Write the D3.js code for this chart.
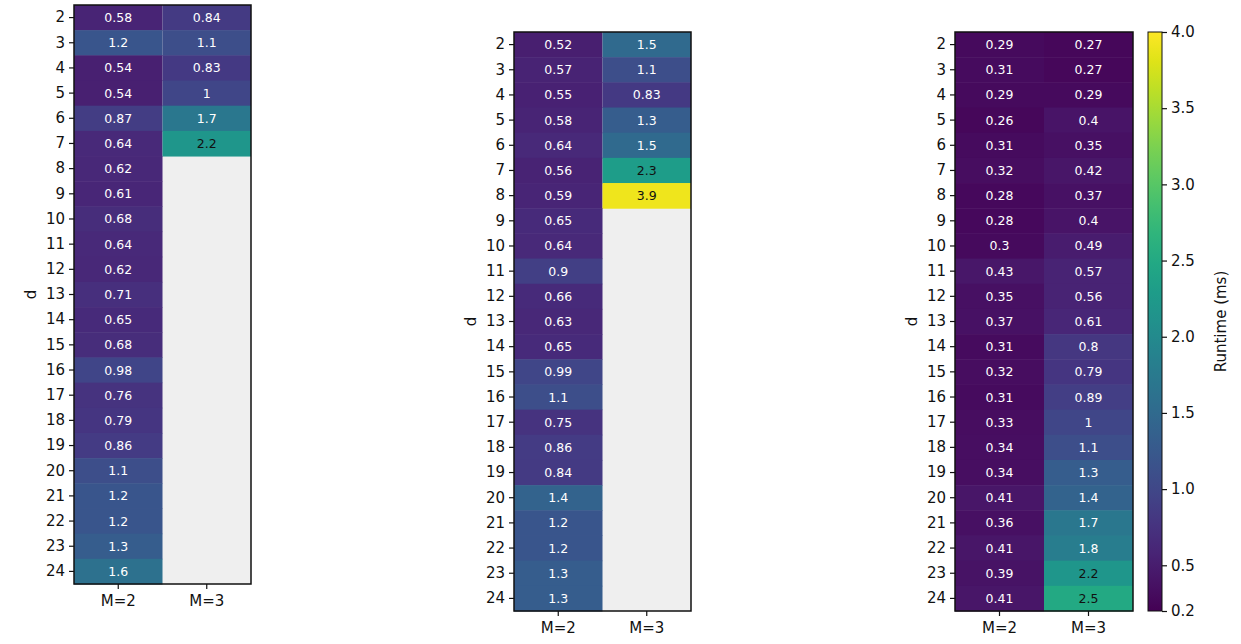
<!DOCTYPE html>
<html>
<head>
<meta charset="utf-8">
<script src="https://cdn.jsdelivr.net/npm/d3@7"></script>
<style>
body { margin:0; background:white; }
text { font-family:"DejaVu Sans", sans-serif; fill:#111; }
.axis path { display:none; }
.axis line { stroke:#111; stroke-width:1.2; }
.axis text { font-size:15px; }
.cell-label { font-size:12.5px; }
</style>
</head>
<body>
<script>

// Data: rows are d = 2..24, columns M=2 and M=3 (null = not run)
var dValues = d3.range(2, 25);
var colLabels = ["M=2", "M=3"];

var left_m2 = [0.58,1.2,0.54,0.54,0.87,0.64,0.62,0.61,0.68,0.64,0.62,0.71,0.65,0.68,0.98,0.76,0.79,0.86,1.1,1.2,1.2,1.3,1.6];
var left_m3 = [0.84,1.1,0.83,1.0,1.7,2.2];

var mid_m2 = [0.52,0.57,0.55,0.58,0.64,0.56,0.59,0.65,0.64,0.9,0.66,0.63,0.65,0.99,1.1,0.75,0.86,0.84,1.4,1.2,1.2,1.3,1.3];
var mid_m3 = [1.5,1.1,0.83,1.3,1.5,2.3,3.9];

var right_m2 = [0.29,0.31,0.29,0.26,0.31,0.32,0.28,0.28,0.3,0.43,0.35,0.37,0.31,0.32,0.31,0.33,0.34,0.34,0.41,0.36,0.41,0.39,0.41];
var right_m3 = [0.27,0.27,0.29,0.4,0.35,0.42,0.37,0.4,0.49,0.57,0.56,0.61,0.8,0.79,0.89,1,1.1,1.3,1.4,1.7,1.8,2.2,2.5];

var cbarTicks = [0.2,0.5,1.0,1.5,2.0,2.5,3.0,3.5,4.0];

var W = 1241, H = 644;
var svg = d3.select("body").append("svg")
    .attr("width", W).attr("height", H);

var color = d3.scaleSequential(d3.interpolateViridis).domain([0.2, 4.0]);
var fmt = d3.format(".2~g");

// dark text on the upper half of the colour range
function textColor(v) {
  return v > 2.0 ? "#111" : "white";
}

function toCells(m2, m3) {
  var cells = [];
  dValues.forEach(function(d, i) {
    if (m2[i] != null) cells.push({d: d, col: "M=2", v: m2[i]});
    if (m3[i] != null) cells.push({d: d, col: "M=3", v: m3[i]});
  });
  return cells;
}

function heatmap(m2, m3, box) {
  var g = svg.append("g").attr("transform", `translate(${box.x}, ${box.y})`);

  var x = d3.scaleBand().domain(colLabels).range([0, box.w]);
  var y = d3.scaleBand().domain(dValues).range([0, box.h]);

  // missing cells show the background
  g.append("rect").attr("width", box.w).attr("height", box.h).attr("fill", "#efefef");

  var cells = toCells(m2, m3);
  g.selectAll("rect.cell")
    .data(cells)
    .enter()
    .append("rect")
    .attr("class", "cell")
    .attr("x", d => x(d.col))
    .attr("y", d => y(d.d))
    .attr("width", x.bandwidth())
    .attr("height", y.bandwidth() + 0.5)
    .attr("fill", d => color(d.v));

  g.selectAll("text.cell-label")
    .data(cells)
    .enter()
    .append("text")
    .attr("class", "cell-label")
    .attr("x", d => x(d.col) + x.bandwidth() / 2)
    .attr("y", d => y(d.d) + y.bandwidth() / 2)
    .attr("text-anchor", "middle")
    .attr("dominant-baseline", "central")
    .style("fill", d => textColor(d.v))
    .text(d => fmt(d.v));

  g.append("rect").attr("width", box.w).attr("height", box.h)
    .attr("fill", "none").attr("stroke", "#111").attr("stroke-width", 1.5);

  g.append("g").attr("class", "axis")
    .call(d3.axisLeft(y).tickSize(5).tickPadding(4));

  g.append("g").attr("class", "axis")
    .attr("transform", `translate(0, ${box.h})`)
    .call(d3.axisBottom(x).tickSize(5).tickPadding(6));

  g.append("text")
    .attr("transform", `translate(${-38}, ${box.h / 2}) rotate(-90)`)
    .attr("text-anchor", "middle")
    .style("font-size", "15px")
    .text("d");
}

heatmap(left_m2, left_m3, {x: 74, y: 5, w: 177, h: 579});
heatmap(mid_m2, mid_m3, {x: 514, y: 32, w: 177, h: 579});
heatmap(right_m2, right_m3, {x: 955, y: 32, w: 178, h: 579});

// Colorbar
var cb = {x: 1148, y: 32, w: 14, h: 579};
var cy = d3.scaleLinear().domain([0.2, 4.0]).range([cb.h, 0]);
var cbar = svg.append("g").attr("transform", `translate(${cb.x}, ${cb.y})`);

var grad = svg.append("defs").append("linearGradient")
    .attr("id", "viridis").attr("x1", 0).attr("y1", 1).attr("x2", 0).attr("y2", 0);
d3.range(0, 1.0001, 0.05).forEach(function(t) {
  grad.append("stop").attr("offset", t).attr("stop-color", d3.interpolateViridis(t));
});

cbar.append("rect").attr("width", cb.w).attr("height", cb.h)
    .attr("fill", "url(#viridis)").attr("stroke", "#111").attr("stroke-width", 1);

cbar.append("g").attr("class", "axis")
    .attr("transform", `translate(${cb.w}, 0)`)
    .call(d3.axisRight(cy).tickValues(cbarTicks).tickFormat(d3.format(".1f")).tickSize(5).tickPadding(4));

svg.append("text")
    .attr("transform", `translate(1226, ${cb.y + cb.h / 2}) rotate(-90)`)
    .attr("text-anchor", "middle")
    .style("font-size", "15px")
    .text("Runtime (ms)");

</script>
</body>
</html>
